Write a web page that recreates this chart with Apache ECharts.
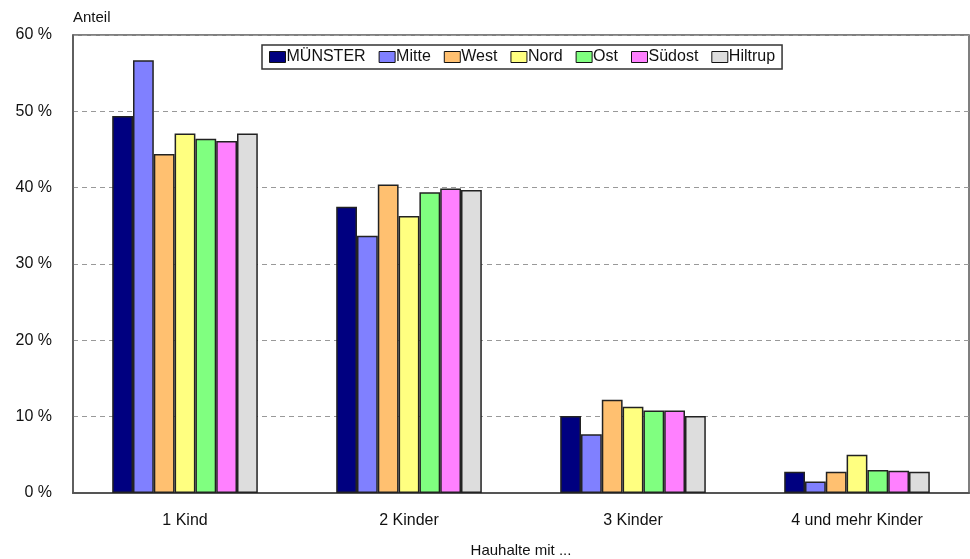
<!DOCTYPE html>
<html>
<head>
<meta charset="utf-8">
<script src="https://cdn.jsdelivr.net/npm/echarts@6/dist/echarts.min.js"></script>
<style>
  html, body { margin: 0; padding: 0; background: #fff; }
  #chart { width: 970px; height: 559px; }
</style>
</head>
<body>
<div id="chart"></div>
<script>
// Households with children, share by number of children per district
var categories = ['1 Kind', '2 Kinder', '3 Kinder', '4 und mehr Kinder'];
var seriesNames = ['MÜNSTER', 'Mitte', 'West', 'Nord', 'Ost', 'Südost', 'Hiltrup'];
var muenster = [49.4, 37.5, 10.1, 2.8];
var mitte    = [56.7, 33.7, 7.7, 1.5];
var west     = [44.4, 40.4, 12.2, 2.8];
var nord     = [47.1, 36.3, 11.3, 5.0];
var ost      = [46.4, 39.4, 10.8, 3.0];
var suedost  = [46.1, 39.9, 10.8, 2.9];
var hiltrup  = [47.1, 39.7, 10.1, 2.8];
var yTicks = [0, 10, 20, 30, 40, 50, 60];

var values = [muenster, mitte, west, nord, ost, suedost, hiltrup];
var colors = ['#000080', '#8080FF', '#FFC070', '#FFFF80', '#80FF80', '#FF80FF', '#DDDDDD'];
var font = 'Liberation Sans, Arial, sans-serif';

var chart = echarts.init(document.getElementById('chart'));
chart.setOption({
  animation: false,
  color: colors,
  textStyle: { fontFamily: font },
  grid: {
    left: 73, right: 1, top: 35, bottom: 66,
    outerBoundsMode: 'none',
    show: true, borderColor: '#555', borderWidth: 1.5, backgroundColor: '#fff'
  },
  legend: {
    left: 262, top: 45,
    data: seriesNames,
    icon: 'rect',
    itemWidth: 16, itemHeight: 11, itemGap: 13,
    padding: [4, 7, 4, 7],
    borderColor: '#333', borderWidth: 1.5,
    textStyle: { fontSize: 16, color: '#111', padding: [0, 0, 0, -4] },
    itemStyle: { borderColor: '#111', borderWidth: 1 }
  },
  xAxis: {
    type: 'category',
    data: categories,
    name: 'Hauhalte mit ...',
    nameLocation: 'middle',
    nameGap: 50,
    nameTextStyle: { fontSize: 15, color: '#111' },
    axisLine: { lineStyle: { color: '#555', width: 2 } },
    axisTick: { show: false },
    axisLabel: { fontSize: 16, color: '#111', margin: 20 }
  },
  yAxis: {
    type: 'value',
    min: yTicks[0], max: yTicks[yTicks.length - 1], interval: 10,
    name: 'Anteil',
    nameLocation: 'end',
    nameGap: 10,
    nameTextStyle: { fontSize: 15, color: '#111', align: 'left' },
    axisLine: { show: true, lineStyle: { color: '#555', width: 1.5 } },
    axisTick: { show: false },
    axisLabel: { fontSize: 16, color: '#111', margin: 21, formatter: '{value} %' },
    splitLine: { lineStyle: { color: '#999', type: [5, 4], width: 1 } }
  },
  series: seriesNames.map(function (name, i) {
    return {
      name: name,
      type: 'bar',
      data: values[i],
      barGap: '0%',
      barCategoryGap: '35%',
      itemStyle: { color: colors[i], borderColor: '#222', borderWidth: 1.5 }
    };
  })
});
</script>
</body>
</html>
